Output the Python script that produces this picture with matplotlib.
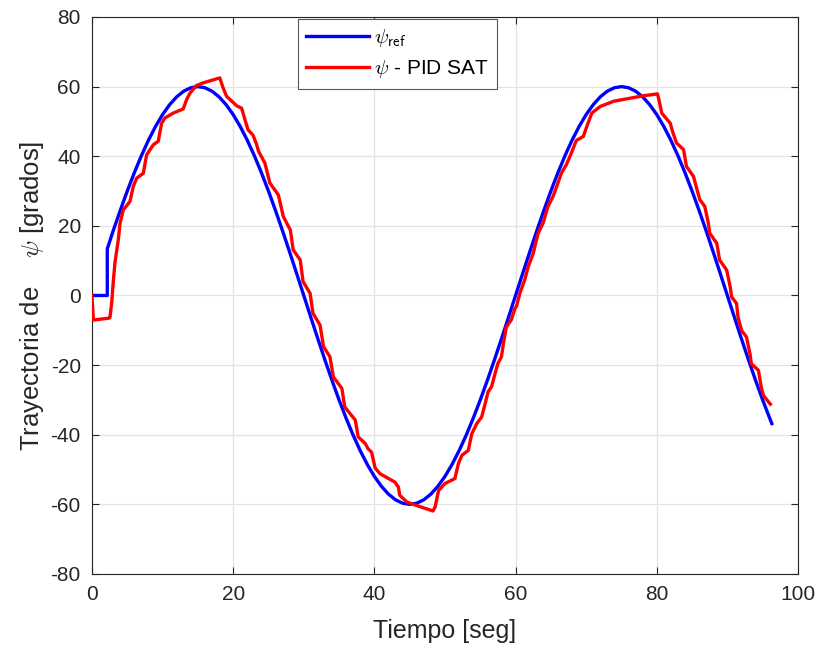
import matplotlib
matplotlib.use("Agg")
import matplotlib.pyplot as plt

# ---------------- data ----------------
ref_t = [0, 2.17, 2.17, 3, 4, 5, 6, 7, 8, 9, 10, 11, 12, 13, 14, 15, 16, 17, 18, 19, 20,
         21, 22, 23, 24, 25, 26, 27, 28, 29, 30, 31, 32, 33, 34, 35, 36, 37, 38, 39, 40,
         41, 42, 43, 44, 45, 46, 47, 48, 49, 50, 51, 52, 53, 54, 55, 56, 57, 58, 59, 60,
         61, 62, 63, 64, 65, 66, 67, 68, 69, 70, 71, 72, 73, 74, 75, 76, 77, 78, 79, 80,
         81, 82, 83, 84, 85, 86, 87, 88, 89, 90, 91, 92, 93, 94, 95, 96, 96.3]
ref_y = [0, 0, 13.4, 18.54, 24.40, 30.00, 35.27, 40.15, 44.59, 48.54, 51.96, 54.81, 57.06,
         58.69, 59.67, 60.00, 59.67, 58.69, 57.06, 54.81, 51.96, 48.54, 44.59, 40.15, 35.27,
         30.00, 24.40, 18.54, 12.47, 6.27, 0.0, -6.27, -12.47, -18.54, -24.40, -30.00,
         -35.27, -40.15, -44.59, -48.54, -51.96, -54.81, -57.06, -58.69, -59.67, -60.00,
         -59.67, -58.69, -57.06, -54.81, -51.96, -48.54, -44.59, -40.15, -35.27, -30.00,
         -24.40, -18.54, -12.47, -6.27, 0.0, 6.27, 12.47, 18.54, 24.40, 30.00, 35.27, 40.15,
         44.59, 48.54, 51.96, 54.81, 57.06, 58.69, 59.67, 60.00, 59.67, 58.69, 57.06, 54.81,
         51.96, 48.54, 44.59, 40.15, 35.27, 30.00, 24.40, 18.54, 12.47, 6.27, 0.0, -6.27,
         -12.47, -18.54, -24.40, -30.00, -35.27, -36.8]

pid_t = [0, 0.2, 2.45, 2.55, 2.8, 3.0, 3.26, 3.73, 3.97, 4.44, 5.38, 5.85, 6.33, 7.27, 7.74,
         8.69, 9.39, 9.87, 10.34, 11.52, 12.93, 13.41, 13.9, 14.8, 15.8, 18.1, 18.6, 19.07,
         20.5, 21.2, 21.67, 22.1, 22.8, 23.3, 23.6, 24.5, 25.2, 26.4, 27.1, 28.1, 28.5, 29.5,
         29.9, 30.9, 31.3, 32.3, 32.8, 33.7, 34.2, 35.4, 35.8, 37.3, 37.7, 38.7, 39.1, 39.6,
         40.1, 40.8, 42.9, 43.4, 43.6, 44.6, 45.5, 48.3, 48.6, 49.1, 50.0, 51.4, 51.9, 52.4,
         53.3, 53.8, 54.5, 55.2, 55.7, 56.1, 56.6, 57.1, 57.5, 58.0, 58.3, 58.7, 59.4, 59.9,
         60.15, 60.6, 61.3, 61.8, 62.2, 62.5, 63.2, 63.9, 64.6, 65.3, 66.0, 66.5, 67.2, 67.9,
         68.6, 69.6, 70.1, 70.8, 72.0, 73.9, 76.3, 78.2, 80.1, 80.3, 80.7, 81.9, 82.3,
         82.8, 83.8, 84.2, 85.2, 85.7, 86.1, 86.8, 87.3, 87.5, 88.5, 88.9, 89.9, 90.4, 90.6,
         91.3, 91.5, 92.0, 92.7, 93.2, 93.4, 94.4, 94.8, 95.1, 96.0, 96.1]
pid_y = [0, -7.05, -6.5, -6.3, -2.0, 3.5, 9.5, 16.0, 20.7, 24.6, 27.0, 31.3, 33.7, 35.1, 40.4,
         43.3, 44.3, 49.5, 51.0, 52.4, 53.6, 56.3, 58.2, 60.3, 61.1, 62.5, 59.5, 57.2,
         54.5, 53.8, 50.5, 47.6, 46.1, 43.5, 41.4, 38.0, 32.3, 28.9, 22.7, 18.8, 13.1, 10.2,
         4.0, 0.6, -5.1, -8.5, -14.7, -17.6, -23.4, -26.7, -32.0, -35.8, -40.6, -42.5, -44.0,
         -45.0, -49.5, -51.2, -53.6, -55.0, -57.4, -59.3, -60.0, -61.9, -60.75, -56.0, -54.0,
         -52.6, -48.3, -45.9, -44.5, -39.7, -36.8, -34.9, -31.0, -27.7, -26.2, -22.4, -19.5,
         -17.6, -13.5, -9.0, -7.0, -3.8,
         -3.0, 0.6, 4.5, 8.3, 10.5, 12.1, 17.9, 20.8, 25.6, 28.4, 32.3, 35.2, 37.6, 40.9,
         44.5, 45.7, 48.6, 52.4, 54.3, 55.8, 56.7, 57.4, 57.9, 56.3, 52.4, 49.5, 46.7,
         43.8, 41.9, 37.1, 34.2, 30.4, 27.5, 25.6, 20.8, 17.9, 15.0, 10.2, 7.3, 2.5, -0.4,
         -2.3, -6.1, -10.0, -11.9, -16.7, -19.6, -21.5, -26.3, -28.7, -31.0, -31.2]

xticks = [0, 20, 40, 60, 80, 100]
yticks = [-80, -60, -40, -20, 0, 20, 40, 60, 80]

label_ref = r'$\psi_{\mathsf{ref}}$'
label_pid = r'$\psi$ - PID SAT'
xlabel = 'Tiempo [seg]'
ylabel = r'Trayectoria de    $\psi$ [grados]'

# ---------------- style ----------------
plt.rcParams['font.family'] = ['Liberation Sans', 'DejaVu Sans']
plt.rcParams['mathtext.fontset'] = 'cm'
plt.rcParams['axes.unicode_minus'] = False
axis_col = '#262626'

fig = plt.figure(figsize=(8.16, 6.48), dpi=100)
ax = fig.add_axes([0.1127, 0.1142, 0.8652, 0.8596])

ax.plot(ref_t, ref_y, color=(0, 0, 1), lw=2.4, label=label_ref, zorder=3)
ax.plot(pid_t, pid_y, color=(1, 0, 0), lw=2.4, label=label_pid, zorder=4)

ax.set_xlim(0, 100)
ax.set_ylim(-80, 80)
ax.set_xticks(xticks)
ax.set_yticks(yticks)
ax.grid(True, color='#e3e3e3', lw=0.9, zorder=0)
ax.set_axisbelow(True)

for s in ax.spines.values():
    s.set_color(axis_col)
    s.set_linewidth(0.8)
ax.tick_params(direction='in', length=5, width=0.8, colors=axis_col,
               labelsize=15, top=True, right=True, pad=8)
for lab in ax.get_xticklabels() + ax.get_yticklabels():
    lab.set_color(axis_col)

ax.set_xlabel(xlabel, fontsize=18, color=axis_col, labelpad=11)
ax.set_ylabel(ylabel, fontsize=18.5, color=axis_col, labelpad=3)

leg = ax.legend(loc='upper left', bbox_to_anchor=(0.292, 0.997), fontsize=15,
                fancybox=False, framealpha=1, edgecolor='#555555',
                handlelength=3.0, handletextpad=0.25, borderpad=0.4,
                labelspacing=0.45, borderaxespad=0)
leg.get_frame().set_linewidth(0.8)

fig.savefig('out.png', dpi=100)
